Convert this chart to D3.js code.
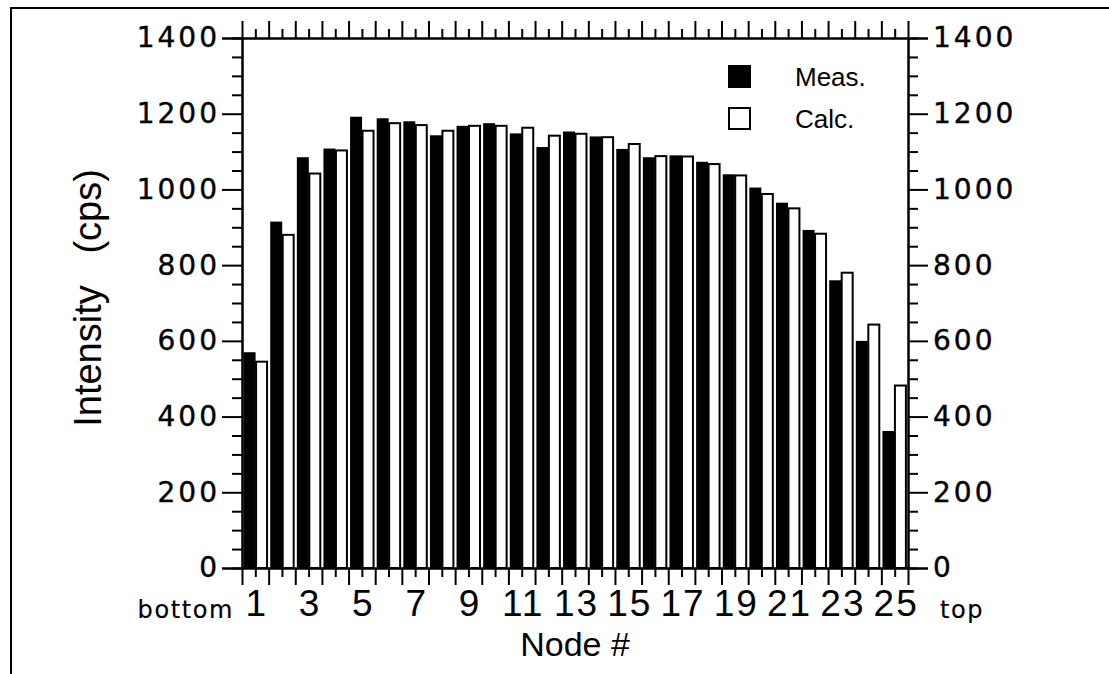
<!DOCTYPE html>
<html lang="en">

<head>
  <meta charset="UTF-8">
  <title>Intensity by node</title>
  <style>
    body {
      margin: 0;
      background: #fff;
    }

    svg text {
      fill: #000;
    }

    .num {
      font-family: 'DejaVu Sans', sans-serif;
      font-size: 28px;
      letter-spacing: 3px;
      stroke: #000;
      stroke-width: 0.4px;
    }

    .xnum {
      font-family: 'Liberation Sans Narrow', 'Liberation Sans', sans-serif;
      font-size: 37px;
      letter-spacing: 2px;
    }

    .label {
      font-family: 'Liberation Sans', sans-serif;
    }
  </style>
</head>

<body>
  <div id="plot"></div>

  <script src="https://cdn.jsdelivr.net/npm/d3@7"></script>
  <script>
    // node numbers along the column, bottom (1) to top (25)
    let nodes = d3.range(1, 26);
    let nodeLabels = [1, 3, 5, 7, 9, 11, 13, 15, 17, 19, 21, 23, 25];

    // measured and calculated intensity (cps)
    let meas = [570, 915, 1085, 1108, 1192, 1188, 1180, 1143, 1168, 1175, 1148, 1112, 1153,
      1140, 1107, 1085, 1090, 1073, 1040, 1005, 965, 893, 760, 600, 362];
    let calc = [545, 880, 1042, 1103, 1155, 1175, 1170, 1155, 1168, 1168, 1163, 1142, 1147,
      1138, 1120, 1088, 1087, 1067, 1037, 988, 950, 883, 780, 643, 482];

    let yTicks = [0, 200, 400, 600, 800, 1000, 1200, 1400];
    let series = ['Meas.', 'Calc.'];

    let W = 1109, H = 674;
    let plot = { left: 242, right: 908, top: 38, bottom: 568 };

    let svg = d3.select('#plot').append('svg')
      .attr('width', W)
      .attr('height', H);

    svg.append('rect').attr('width', W).attr('height', H).attr('fill', '#fff');

    // scanned page frame: only top and left edges visible
    svg.append('path')
      .attr('d', `M11,${H} L11,8 L${W},8`)
      .attr('fill', 'none')
      .attr('stroke', '#000')
      .attr('stroke-width', 2);

    let data = nodes.map((n, i) => ({ node: n, values: [meas[i], calc[i]] }));

    let x = d3.scaleBand()
      .domain(nodes)
      .range([plot.left, plot.right])
      .paddingInner(0.1)
      .paddingOuter(0.06);
    let xSub = d3.scaleBand()
      .domain(series)
      .range([0, x.bandwidth()]);
    // continuous position for tick marks (slot edges and centres)
    let xPos = d3.scaleLinear()
      .domain([0.5, 25.5])
      .range([plot.left, plot.right]);

    let y = d3.scaleLinear()
      .domain([0, 1400])
      .range([plot.bottom, plot.top]);

    let edges = d3.range(0.5, 26, 1);
    let minorY = d3.range(0, 1401, 50).filter(v => v % 200 !== 0);

    function styleAxis(g) {
      g.select('.domain').attr('stroke', '#000').attr('stroke-width', 2);
      g.selectAll('.tick line').attr('stroke', '#000').attr('stroke-width', 2);
    }

    // bars
    let groups = svg.append('g').selectAll('.node')
      .data(data)
      .enter().append('g')
      .attr('class', 'node')
      .attr('transform', d => `translate(${x(d.node)},0)`);

    groups.selectAll('rect')
      .data(d => d.values.map((v, i) => ({ key: series[i], v: v })))
      .enter().append('rect')
      .attr('x', d => xSub(d.key) + (d.key === 'Calc.' ? 0.5 : 0))
      .attr('width', d => xSub.bandwidth() - (d.key === 'Calc.' ? 1 : 0))
      .attr('y', d => y(d.v))
      .attr('height', d => plot.bottom - y(d.v))
      .attr('fill', d => d.key === 'Meas.' ? '#000' : '#fff')
      .attr('stroke', '#000')
      .attr('stroke-width', d => d.key === 'Meas.' ? 0 : 2);

    // left axis
    svg.append('g')
      .attr('transform', `translate(${plot.left},0)`)
      .call(d3.axisLeft(y).tickValues(minorY).tickSize(10).tickFormat(''))
      .call(styleAxis);
    let yl = svg.append('g')
      .attr('transform', `translate(${plot.left},0)`)
      .call(d3.axisLeft(y).tickValues(yTicks).tickSize(20).tickPadding(5).tickFormat(d3.format('d')))
      .call(styleAxis);
    yl.selectAll('text').attr('class', 'num').attr('dx', '3px');

    // right axis
    svg.append('g')
      .attr('transform', `translate(${plot.right},0)`)
      .call(d3.axisRight(y).tickValues(minorY).tickSize(10).tickFormat(''))
      .call(styleAxis);
    let yr = svg.append('g')
      .attr('transform', `translate(${plot.right},0)`)
      .call(d3.axisRight(y).tickValues(yTicks).tickSize(20).tickPadding(5).tickFormat(d3.format('d')))
      .call(styleAxis);
    yr.selectAll('text').attr('class', 'num');

    // top axis: long ticks at slot edges, short at node centres
    svg.append('g')
      .attr('transform', `translate(0,${plot.top})`)
      .call(d3.axisTop(xPos).tickValues(nodes).tickSize(9).tickFormat('').tickSizeOuter(0))
      .call(styleAxis);
    svg.append('g')
      .attr('transform', `translate(0,${plot.top})`)
      .call(d3.axisTop(xPos).tickValues(edges).tickSize(17).tickFormat('').tickSizeOuter(0))
      .call(styleAxis);

    // bottom axis
    svg.append('g')
      .attr('transform', `translate(0,${plot.bottom})`)
      .call(d3.axisBottom(xPos).tickValues(nodes).tickSize(9).tickFormat('').tickSizeOuter(0))
      .call(styleAxis);
    svg.append('g')
      .attr('transform', `translate(0,${plot.bottom})`)
      .call(d3.axisBottom(xPos).tickValues(edges).tickSize(17).tickFormat('').tickSizeOuter(0))
      .call(styleAxis);
    let xl = svg.append('g')
      .attr('transform', `translate(0,${plot.bottom})`)
      .call(d3.axisBottom(xPos).tickValues(nodeLabels).tickSize(0).tickPadding(22))
      .call(g => g.select('.domain').remove());
    xl.selectAll('text').attr('class', 'xnum').attr('dx', '1px');

    // end labels of the x axis
    svg.append('text')
      .attr('class', 'num')
      .attr('x', 234)
      .attr('y', 618)
      .style('font-size', '24px')
      .style('letter-spacing', '1.6px')
      .style('stroke-width', '0.2px')
      .attr('text-anchor', 'end')
      .text('bottom');
    svg.append('text')
      .attr('class', 'num')
      .attr('x', 940)
      .attr('y', 618)
      .style('font-size', '24px')
      .style('letter-spacing', '1.6px')
      .style('stroke-width', '0.2px')
      .text('top');

    // axis titles
    svg.append('text')
      .attr('class', 'label')
      .attr('x', xPos(13))
      .attr('y', 656)
      .attr('text-anchor', 'middle')
      .style('font-size', '34px')
      .text('Node #');

    svg.append('text')
      .attr('class', 'label')
      .attr('transform', 'translate(101,298) rotate(-90)')
      .attr('text-anchor', 'middle')
      .style('font-size', '38px')
      .style('white-space', 'pre')
      .text('Intensity   (cps)');

    // legend
    let legend = svg.append('g')
      .attr('transform', 'translate(728,65)');
    let items = legend.selectAll('.item')
      .data(series)
      .enter().append('g')
      .attr('class', 'item')
      .attr('transform', (d, i) => `translate(0,${i * 42})`);
    items.append('rect')
      .attr('x', 1)
      .attr('y', 1)
      .attr('width', 21)
      .attr('height', 21)
      .attr('fill', (d, i) => i === 0 ? '#000' : '#fff')
      .attr('stroke', '#000')
      .attr('stroke-width', 2);
    items.append('text')
      .attr('class', 'label')
      .attr('x', 67)
      .attr('y', 21)
      .style('font-size', '26px')
      .text(d => d);
  </script>
</body>

</html>
